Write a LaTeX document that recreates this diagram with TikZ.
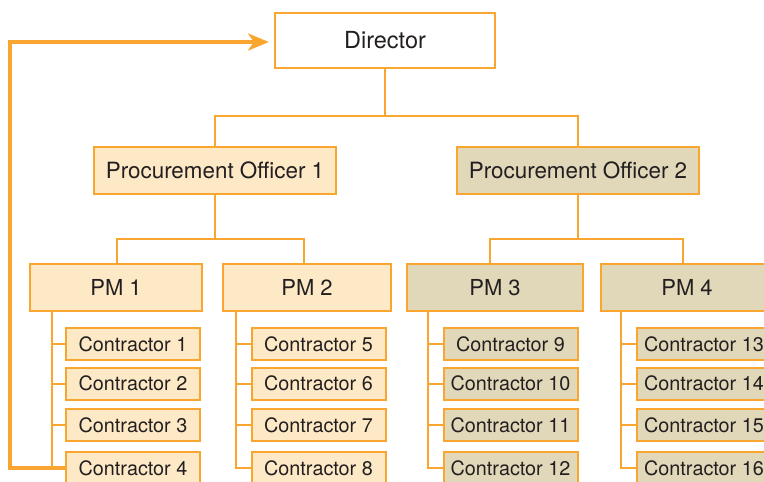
\documentclass[tikz,border=0pt]{standalone}
\usepackage{fontspec}
\setmainfont{TeX Gyre Heros}
\usetikzlibrary{arrows.meta}

\definecolor{lineorange}{RGB}{249,166,48}
\definecolor{peach}{RGB}{253,233,198}
\definecolor{khaki}{RGB}{225,216,185}
\definecolor{inkgray}{RGB}{35,31,32}

\tikzset{
  box/.style={draw=lineorange, line width=2pt, text=inkgray, inner sep=0pt},
  topbox/.style={box, fill=white, minimum width=220pt, minimum height=55pt,
    font=\fontsize{23.5}{27}\selectfont},
  officer/.style={box, minimum width=242pt, minimum height=47pt,
    font=\fontsize{22.4}{26}\selectfont},
  manager/.style={box, minimum width=172pt, minimum height=47pt,
    font=\fontsize{22}{25}\selectfont},
  contractor/.style={box, minimum width=134pt, minimum height=32pt,
    font=\fontsize{19.8}{23}\selectfont},
  link/.style={draw=lineorange, line width=2pt},
  feedback/.style={draw=lineorange, line width=3.5pt,
    -{Stealth[length=21pt,width=17pt,inset=6pt]}},
}

\begin{document}
\begin{tikzpicture}[x=1pt,y=-1pt]
  \useasboundingbox (0,0) rectangle (764,482);
  \clip (0,0) rectangle (764,482);

  % top of the hierarchy
  \node[topbox] (dir) at (385,40.5) {Director};

  % procurement officers
  \node[officer, fill=peach] (po1) at (215,170.5) {Procurement Officer 1};
  \node[officer, fill=khaki] (po2) at (578,170.5) {Procurement Officer 2};

  % project managers
  \node[manager, fill=peach] (pm1) at (116,287.5) {PM 1};
  \node[manager, fill=peach, minimum width=168pt] (pm2) at (307,287.5) {PM 2};
  \node[manager, fill=khaki, minimum width=176pt] (pm3) at (495,287.5) {PM 3};
  \node[manager, fill=khaki] (pm4) at (687,287.5) {PM 4};

  % contractors, four per manager
  \foreach \k/\x/\f [count=\c from 0] in {1/133/peach, 2/318.5/peach, 3/510.5/khaki, 4/704/khaki}{
    \foreach \r/\y in {1/344, 2/383.5, 3/425, 4/468}{
      \pgfmathtruncatemacro{\num}{4*\c+\r}
      \node[contractor, fill=\f] (c\k-\r) at (\x,\y) {Contractor \num};
    }
  }

  % director to officers
  \coordinate (busA) at (385,116);
  \draw[link] (dir.south) -- (busA);
  \draw[link] (busA) -| (po1.north);
  \draw[link] (busA) -| (po2.north);

  % officers to managers
  \draw[link] (po1.south) -- ++(0,44) coordinate (busB) -| ([xshift=1pt]pm1.north);
  \draw[link] (busB) -| ([xshift=-3pt]pm2.north);
  \draw[link] (po2.south) -- ++(0,44) coordinate (busC) -| ([xshift=-5pt]pm3.north);
  \draw[link] (busC) -| ([xshift=-4pt]pm4.north);

  % managers to contractors
  \foreach \k/\x in {1/52, 2/236, 3/428, 4/621}{
    \coordinate (col) at (\x,0);
    \draw[link] (pm\k.south -| col) -- (c\k-4.west -| col) -- (c\k-4.west);
    \foreach \r in {1,2,3}{
      \draw[link] (c\k-\r.west -| col) -- (c\k-\r.west);
    }
  }

  % feedback loop from the last contractor back to the director
  \coordinate (tip) at (269,42);
  \coordinate (corner) at (10,42);
  \draw[feedback] (c1-4.west) -| (corner) -- (tip);
\end{tikzpicture}
\end{document}
